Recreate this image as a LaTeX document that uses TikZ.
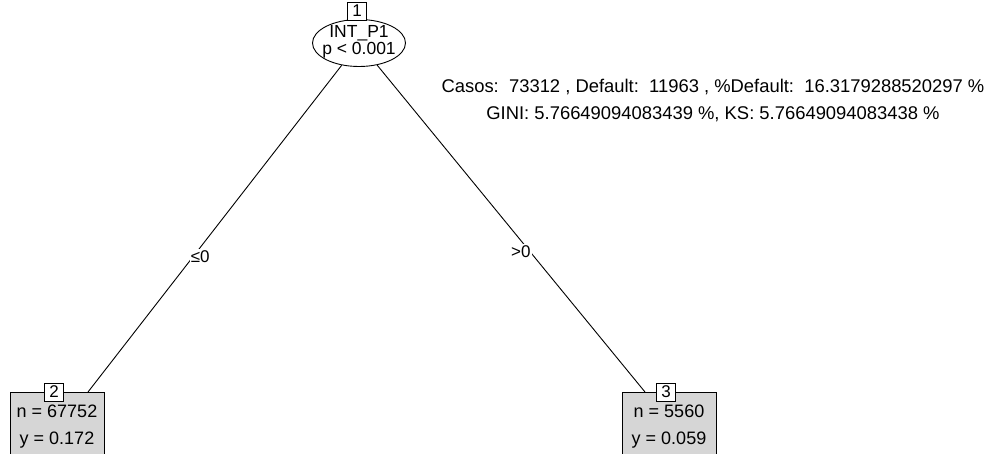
\documentclass[tikz,border=0pt]{standalone}
\usepackage{fontspec}
\setmainfont{Liberation Sans}
\usetikzlibrary{shapes.geometric}

\begin{document}
\begin{tikzpicture}[x=1pt,y=-1pt,
  every node/.style={font=\fontsize{17}{20}\selectfont,inner sep=1pt},
  every path/.style={line width=0.9pt},
  splitnode/.style={draw,ellipse,minimum width=93pt,minimum height=47pt,inner sep=0pt},
  termbox/.style={draw,fill=black!16,rectangle,minimum width=94pt,minimum height=90pt,anchor=north},
  idbox/.style={draw,fill=white,rectangle,minimum width=19pt,minimum height=18pt,inner sep=0pt},
  edgelab/.style={fill=white,inner sep=1pt}]
\useasboundingbox (0,0) rectangle (992,454);
% inner node
\node[splitnode] (n1) at (359,43) {};
\node[align=center,font=\fontsize{17.5}{16.5}\selectfont] (n1txt) at (359,42) {INT\_P1\\p < 0.001};
\node[idbox] (id1) at (357,11) {1};
\node[align=center,font=\fontsize{18.4}{27}\selectfont] (info) at (713,101)
  {Casos:\ \ 73312 , Default:\ \ 11963 , \%Default:\ \ 16.3179288520297 \%\\
   GINI: 5.76649094083439 \%, KS: 5.76649094083438 \%};
% terminal nodes
\node[termbox] (n2) at (57,392) {};
\node[align=center,font=\fontsize{18}{27}\selectfont] (n2txt) at (57,427) {n = 67752\\y = 0.172};
\node[idbox,xshift=-3pt] (id2) at (n2.north) {2};
\node[termbox] (n3) at (669,392) {};
\node[align=center,font=\fontsize{18}{27}\selectfont] (n3txt) at (669,427) {n = 5560\\y = 0.059};
\node[idbox,xshift=-3pt] (id3) at (n3.north) {3};
% edges
\coordinate (e2) at (88,392);
\coordinate (e3) at (645,392);
\draw (n1) -- node[edgelab,pos=0.585,xshift=7pt] (lab2) {≤0} (e2);
\draw (n1) -- node[edgelab,pos=0.57,xshift=-9pt] (lab3) {>0} (e3);
\end{tikzpicture}
\end{document}
